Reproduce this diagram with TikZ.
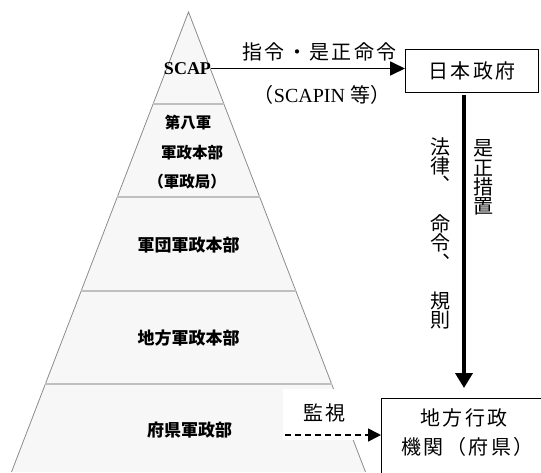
\documentclass[tikz,border=0pt]{standalone}
\usepackage{fontspec}
\setmainfont{Liberation Serif}
\newfontfamily\cjk[LetterSpace=12]{Noto Sans CJK JP}
\newfontfamily\cjkv{Noto Sans CJK JP}
\usetikzlibrary{arrows.meta}
\tikzset{
  edge/.style={draw=black!45, line width=0.8pt},
  divider/.style={draw=black!25, line width=1.5pt},
  lvl/.style={inner sep=0pt, font=\fontsize{17}{20}\selectfont\cjkv\bfseries},
  lbl/.style={inner sep=0pt, font=\fontsize{20}{24}\selectfont\cjk},
  vlbl/.style={inner sep=0pt, align=center, font=\fontsize{20}{19.3}\selectfont\cjkv},
  boxnode/.style={draw, line width=1.3pt, inner sep=0pt},
  harr/.style={line width=1.8pt, -{Triangle[length=15pt,width=14pt]}},
  varr/.style={line width=4pt, -{Triangle[length=15pt,width=17pt]}},
  darr/.style={line width=1.6pt, dash pattern=on 6pt off 4pt, -{Triangle[length=13pt,width=13pt]}}
}
\begin{document}
\begin{tikzpicture}[x=1pt,y=-1pt]
\useasboundingbox (0,0) rectangle (541,472);
\clip (0,0) rectangle (541,472);
\fill[white] (0,0) rectangle (541,472);
% pyramid
\coordinate (apex) at (188.5,12);
\coordinate (bl) at (11.5,472);
\coordinate (br) at (365.5,472);
\fill[black!3] (apex) -- (bl) -- (br) -- cycle;
\draw[edge] (bl) -- (apex) -- (br);
\foreach \yy in {104,197,291,384}{
  \pgfmathsetmacro{\hw}{0.3848*(\yy-12)}
  \draw[divider] (188.5-\hw,\yy) -- (188.5+\hw,\yy);
}
% white patch behind label
\fill[white] (283,389) rectangle (381,440);
% level labels
\node[inner sep=0pt, font=\fontsize{18}{20}\selectfont\bfseries] (scap) at (187.5,68.5) {SCAP};
\node[lvl, font=\fontsize{15.5}{18}\selectfont\cjkv\bfseries] (l1a) at (188,123) {第八軍};
\node[lvl, font=\fontsize{15.5}{18}\selectfont\cjkv\bfseries] (l1b) at (192,153) {軍政本部};
\node[lvl, font=\fontsize{15.5}{18}\selectfont\cjkv\bfseries] (l1c) at (187,182) {（軍政局）};
\node[lvl] (l2) at (188.5,245) {軍団軍政本部};
\node[lvl] (l3) at (188.5,338) {地方軍政本部};
\node[lvl] (l4) at (189.5,430) {府県軍政部};
% boxes
\node[boxnode, minimum width=133pt, minimum height=43pt, anchor=north west] (gov) at (405,49) {};
\node[lbl] (govt) at (gov.center) {日本政府};
\node[boxnode, minimum width=162pt, minimum height=90pt, anchor=north west] (local) at (381,398) {};
\node[lbl] (loc1) at (464,418) {地方行政};
\node[lbl] (loc2) at (467.5,447) {機関（府県）};
% arrows
\draw[harr] (scap.east) -- (scap.east -| gov.west);
\node[lbl] (sh1) at (319.5,52) {指令・是正命令};
\node[inner sep=0pt, font=\fontsize{20}{24}\selectfont] (sh2) at (322,95) {{\cjkv （}SCAPIN {\cjkv 等）}};
\coordinate (v1) at (464,95);
\coordinate (v2) at (464,388);
\draw[varr] (v1) -- (v2);
\node[vlbl] (vl) at (440,233.5) {法\\律\\︑\\　\\命\\令\\︑\\　\\規\\則};
\node[vlbl] (vr) at (483.5,177.5) {是\\正\\措\\置};
\coordinate (d1) at (285,435);
\draw[darr] (d1) -- (d1 -| local.west);
\node[lbl] (kan) at (324.5,413) {監視};
\end{tikzpicture}
\end{document}
